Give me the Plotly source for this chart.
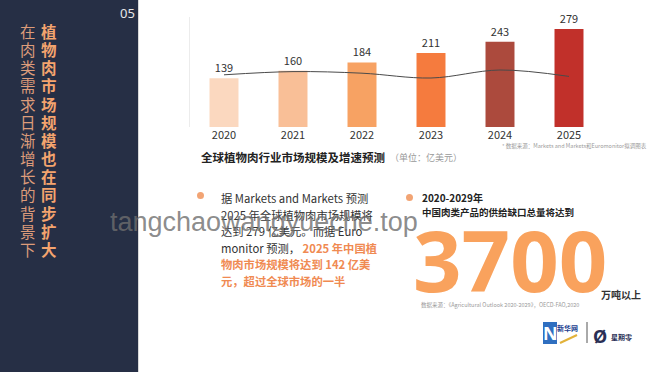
import plotly.graph_objects as go

W, H = 660, 372

# ---- data ----
years = ["2020", "2021", "2022", "2023", "2024", "2025"]
market_size = [139, 160, 184, 211, 243, 279]          # 亿美元
growth_rate = [14.9, 15.1, 15.0, 14.7, 15.2, 14.8]     # %
growth_labels = ["14.9%", "15.1%", "15.0%", "14.7%", "15.2%", "14.8%"]
bar_colors = ["#fbd8bf", "#f9bf97", "#f7a263", "#f57b3e", "#ac4a3d", "#c1302a"]
pct_colors = ["#e79a6c", "#fde8da", "#fde8da", "#fde0cf", "#f6d6cc", "#f8d2c8"]

CJK = "Noto Sans CJK SC"


def px(x):
    return x / W


def py(y):
    return 1 - y / H


def ann(x, y, text, size, color, family=CJK, xanchor="center"):
    return dict(x=px(x), y=py(y), xref="paper", yref="paper", text=text, showarrow=False,
                xanchor=xanchor, yanchor="middle",
                font=dict(family=family, size=size, color=color))


fig = go.Figure()

fig.add_trace(go.Bar(
    x=years, y=market_size, width=0.42,
    marker=dict(color=bar_colors, line=dict(width=0)),
    text=[str(v) for v in market_size], textposition="outside",
    textfont=dict(family=CJK, size=11, color="#333333"),
    cliponaxis=False, hoverinfo="skip",
))

fig.add_trace(go.Scatter(
    x=years, y=growth_rate, yaxis="y2", mode="lines",
    line=dict(color="#4a4a4a", width=1, shape="spline", smoothing=1.0),
    hoverinfo="skip",
))

annotations = []
# percentage labels inside bars
for yr, lab, c in zip(years, growth_labels, pct_colors):
    annotations.append(dict(x=yr, y=125, xref="x", yref="y", text=lab, showarrow=False,
                            xanchor="center", yanchor="middle",
                            font=dict(family=CJK, size=9, color=c)))

# left navy panel texts
annotations.append(ann(127, 13, "05", 13, "#e8e8e8", family="Noto Sans"))
col_bold = "植物肉市场规模也在同步扩大"
col_reg = "在肉类需求日渐增长的背景下"
for i, ch in enumerate(col_bold):
    annotations.append(ann(49, 31 + i * 18.15, "<b>" + ch + "</b>", 15.5, "#f4a46e"))
for i, ch in enumerate(col_reg):
    annotations.append(ann(28, 31 + i * 18.15, ch, 15.5, "#dd9c7a"))

# chart title & notes
annotations.append(ann(199, 157, "<b>全球植物肉行业市场规模及增速预测</b>", 11.5, "#222222", xanchor="left"))
annotations.append(ann(388, 157, "（单位：亿美元）", 9, "#999999", xanchor="left"))
annotations.append(ann(500, 146, "* 数据来源：Markets and Markets和Euromonitor拟调图表", 5.5, "#9a9a9a",
                       xanchor="left"))

# bullet 1
orange = "#f08a52"
lines1 = [
    "据 Markets and Markets 预测",
    "2025 年全球植物肉市场规模将",
    "达到 279 亿美元。而据 Euro",
    "monitor 预测， <span style='color:%s'><b>2025 年中国植</b></span>" % orange,
    "<span style='color:%s'><b>物肉市场规模将达到 142 亿美</b></span>" % orange,
    "<span style='color:%s'><b>元，超过全球市场的一半</b></span>" % orange,
]
for i, t in enumerate(lines1):
    annotations.append(ann(219, 198 + i * 16.6, t, 11.3, "#333333", xanchor="left"))

# bullet 2
annotations.append(ann(420, 197, "<b>2020-2029年</b>", 10, "#222222", xanchor="left"))
annotations.append(ann(420, 212, "<b>中国肉类产品的供给缺口总量将达到</b>", 9.5, "#222222", xanchor="left"))
annotations.append(ann(510, 259, "<b>3700</b>", 85, "#f9a25d", family="Noto Sans"))
annotations.append(ann(599, 294, "<b>万吨以上</b>", 10, "#333333", xanchor="left"))
annotations.append(ann(419, 305, "数据来源：《Agricultural Outlook 2020-2029》，OECD-FAO,2020", 5.5, "#9a9a9a",
                       xanchor="left"))

# logos (approximation)
annotations.append(ann(550, 333, "<b>N</b>", 18, "#ffffff", family="Noto Sans"))
annotations.append(ann(567, 328, "<b>新华网</b>", 7, "#1a3d8f"))
annotations.append(ann(600, 336, "<b>Ø</b>", 18, "#2a2f55", family="Noto Sans"))
annotations.append(ann(621, 337, "<b>星期零</b>", 7, "#2a2f55"))

# watermark
annotations.append(ann(264, 222, "tangchaowangyueche.top", 27, "rgba(110,110,110,0.8)",
                       family="Liberation Sans"))

shapes = [
    dict(type="rect", xref="paper", yref="paper", x0=0, x1=px(138), y0=0, y1=1,
         fillcolor="#262f45", line=dict(width=0), layer="below"),
    dict(type="line", xref="paper", yref="paper", x0=px(138.5), x1=px(138.5), y0=0, y1=1,
         line=dict(color="#d8d8d8", width=1)),
    dict(type="circle", xref="paper", yref="paper", x0=px(197), x1=px(204), y0=py(192), y1=py(199),
         fillcolor="#f2a474", line=dict(width=0)),
    dict(type="circle", xref="paper", yref="paper", x0=px(406), x1=px(413), y0=py(194), y1=py(201),
         fillcolor="#f2a474", line=dict(width=0)),
    # logo parts
    dict(type="rect", xref="paper", yref="paper", x0=px(543), x1=px(557), y0=py(344), y1=py(322),
         fillcolor="#2f6fc0", line=dict(width=0)),
    dict(type="line", xref="paper", yref="paper", x0=px(560), x1=px(577), y0=py(343), y1=py(335),
         line=dict(color="#e2b23a", width=2)),
    dict(type="line", xref="paper", yref="paper", x0=px(587), x1=px(587), y0=py(343), y1=py(322),
         line=dict(color="#555555", width=1)),
]

fig.update_layout(
    width=W, height=H, margin=dict(l=0, r=0, t=0, b=0),
    paper_bgcolor="#ffffff", plot_bgcolor="rgba(0,0,0,0)",
    showlegend=False,
    xaxis=dict(domain=[189.5 / W, 603.5 / W], range=[-0.5, 5.5], type="category",
               showgrid=False, zeroline=False, showline=False, ticks="",
               tickfont=dict(family=CJK, size=11, color="#333333")),
    yaxis=dict(domain=[py(127), py(17)], range=[0, 313.4], showgrid=False, zeroline=False,
               showticklabels=False, showline=True, linecolor="#ececec", linewidth=1),
    yaxis2=dict(domain=[py(127), py(17)], overlaying="y", range=[11.6375, 18.5125],
                showgrid=False, zeroline=False, showticklabels=False, visible=False),
    annotations=annotations, shapes=shapes,
    bargap=0.58,
)

fig.write_html("out.html", config={"displayModeBar": False},
               post_script="document.body.style.margin='0';document.body.style.overflow='hidden';")
